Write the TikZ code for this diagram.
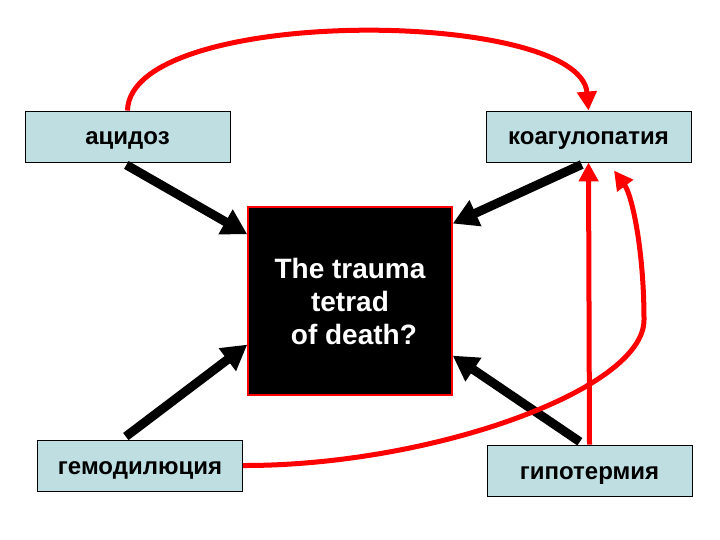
\documentclass[tikz,border=0pt]{standalone}
\usepackage{fontspec}
\setmainfont{Liberation Sans}
\usetikzlibrary{arrows.meta}
\definecolor{boxblue}{RGB}{190,222,226}
\definecolor{loopred}{RGB}{255,0,0}

\begin{document}
\begin{tikzpicture}[x=1pt,y=-1pt,
  factor/.style={draw=black,line width=0.9pt,fill=boxblue,minimum width=205pt,
    minimum height=51pt,inner sep=0pt,text height=17pt,text depth=0pt,
    font=\bfseries\fontsize{24}{28}\selectfont},
  feed/.style={line width=9pt,-{Triangle[length=25pt,width=27pt]},shorten <=5pt},
  loop/.style={draw=loopred,line width=5pt,-{Triangle[length=19pt,width=19pt]}}]

\useasboundingbox (0,0) rectangle (720,540);

% The four factors
\node[factor] (acid) at (127.5,136.5) {ацидоз};
\node[factor] (koag) at (588.5,136.5) {коагулопатия};
\node[factor] (hemo) at (140,465.5) {гемодилюция};
\node[factor] (hypo) at (589.5,470.5) {гипотермия};

% Centre box
\node[fill=black,draw=loopred,line width=1.5pt,minimum width=204pt,minimum height=188pt,
  text=white,align=center,font=\bfseries\fontsize{28}{33}\selectfont]
  (tetrad) at (350,301) {The trauma\\tetrad\\\ of death?};

% Black arrows into the centre
\draw[feed] (acid.258) -- (tetrad.147);
\draw[feed] (koag.265) -- (tetrad.37);
\draw[feed] (hemo.125) -- (tetrad.203);
\draw[feed] (hypo.102) -- (tetrad.332);

% Red loops
\draw[loop] (acid.north) .. controls (130,5) and (580,8) .. (koag.north);
\draw[loop] (hypo.north) -- (koag.south);
\draw[loop,shorten >=10pt] (hemo.east) .. controls (430,466) and (644,390) .. (644,320)
  .. controls (644,250) and (632,195) .. (koag.-53);

\end{tikzpicture}
\end{document}
